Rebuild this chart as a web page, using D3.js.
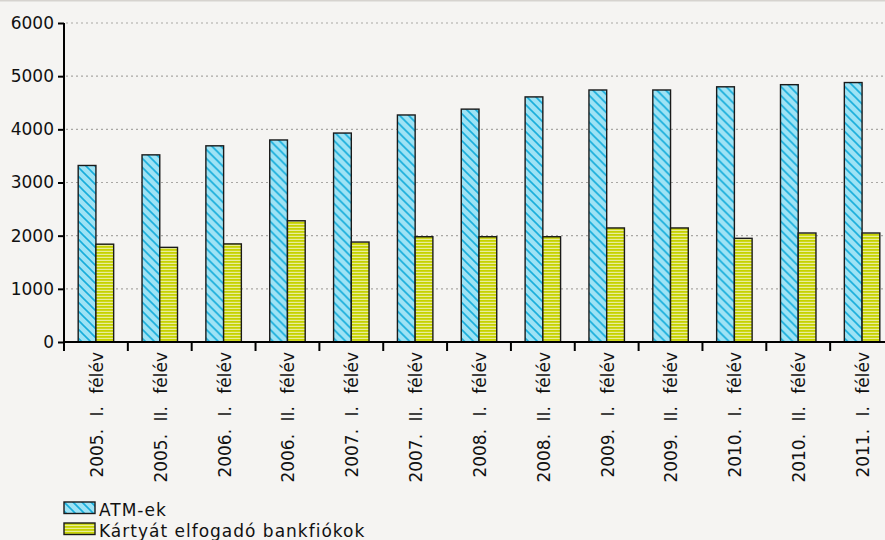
<!DOCTYPE html>
<html lang="hu">
<head>
<meta charset="utf-8">
<title>ATM-ek és kártyát elfogadó bankfiókok</title>
<script src="https://d3js.org/d3.v7.min.js"></script>
<style>
    html, body { margin: 0; padding: 0; background: #f5f4f2; }
    svg { display: block; }
    svg text { font-family: "DejaVu Sans", Verdana, sans-serif; font-size: 17px; fill: #111; }
    .grid line { stroke: #a9a7a4; stroke-width: 1.2; stroke-dasharray: 2 3; }
    .axis path, .axis line { stroke: #000; stroke-width: 2; }
</style>
</head>
<body>
<svg width="885" height="540"></svg>
<script>
    // periods (x categories)
    let periods = [
        "2005. I. félév", "2005. II. félév", "2006. I. félév", "2006. II. félév",
        "2007. I. félév", "2007. II. félév", "2008. I. félév", "2008. II. félév",
        "2009. I. félév", "2009. II. félév", "2010. I. félév", "2010. II. félév",
        "2011. I. félév"
    ];
    let atm = [3320, 3520, 3690, 3800, 3930, 4270, 4380, 4610, 4740, 4740, 4800, 4840, 4880];
    let bankfiok = [1840, 1780, 1845, 2280, 1880, 1980, 1980, 1980, 2145, 2145, 1950, 2050, 2050];
    let seriesNames = ["ATM-ek", "Kártyát elfogadó bankfiókok"];
    let yTicks = [0, 1000, 2000, 3000, 4000, 5000, 6000];

    let svg = d3.select("svg");
    let width = 885;

    // top border line
    svg.append("line")
        .attr("x1", 0).attr("x2", width)
        .attr("y1", 0.5).attr("y2", 0.5)
        .attr("stroke", "#d6d3cf").attr("stroke-width", 2);

    let defs = svg.append("defs");

    // diagonal hatch for ATM bars
    let pAtm = defs.append("pattern")
        .attr("id", "hatchAtm")
        .attr("patternUnits", "userSpaceOnUse")
        .attr("width", 9).attr("height", 9);
    pAtm.append("rect").attr("width", 9).attr("height", 9).attr("fill", "#9ee3f5");
    pAtm.append("path")
        .attr("d", "M0,0L9,9M-3,6L3,12M6,-3L12,3")
        .attr("stroke", "#17addb").attr("stroke-width", 1.6);

    // horizontal stripes for bank branch bars
    let pBank = defs.append("pattern")
        .attr("id", "stripeBank")
        .attr("patternUnits", "userSpaceOnUse")
        .attr("width", 6).attr("height", 3);
    pBank.append("rect").attr("width", 6).attr("height", 3).attr("fill", "#e9ed9a");
    pBank.append("rect").attr("width", 6).attr("height", 1.8).attr("fill", "#c6d200");

    let fills = ["url(#hatchAtm)", "url(#stripeBank)"];

    let x = d3.scaleBand()
        .domain(periods)
        .range([64, 894])
        .paddingInner(0)
        .paddingOuter(0);

    let inner = d3.scaleBand()
        .domain([0, 1])
        .range([0, x.bandwidth()])
        .paddingInner(0)
        .paddingOuter(0.8);

    let y = d3.scaleLinear()
        .domain([0, 6000])
        .range([342, 23]);

    // dotted gridlines
    svg.append("g")
        .attr("class", "grid")
        .selectAll("line")
        .data(yTicks.filter(d => d > 0))
        .join("line")
        .attr("x1", 66).attr("x2", width)
        .attr("y1", d => y(d)).attr("y2", d => y(d));

    // bars
    let rows = periods.map((p, i) => ({ period: p, values: [atm[i], bankfiok[i]] }));

    let groups = svg.append("g")
        .selectAll("g")
        .data(rows)
        .join("g")
        .attr("transform", d => `translate(${x(d.period)},0)`);

    groups.selectAll("rect")
        .data(d => d.values.map((v, k) => ({ k: k, v: v })))
        .join("rect")
        .attr("x", d => inner(d.k))
        .attr("width", inner.bandwidth())
        .attr("y", d => y(d.v))
        .attr("height", d => y(0) - y(d.v))
        .attr("fill", d => fills[d.k])
        .attr("stroke", "#1a1a1a")
        .attr("stroke-width", 1.4);

    // y axis
    let yAxis = svg.append("g")
        .attr("class", "axis")
        .attr("transform", "translate(64,0)")
        .call(d3.axisLeft(y).tickValues(yTicks).tickSize(6).tickPadding(4).tickFormat(d3.format("d")));
    yAxis.attr("font-family", null).attr("font-size", null);
    yAxis.select(".domain").remove();
    yAxis.append("line")
        .attr("x1", 0).attr("x2", 0)
        .attr("y1", y(6000)).attr("y2", 351);

    // x axis
    let xAxis = svg.append("g").attr("class", "axis");
    xAxis.append("line")
        .attr("x1", 63).attr("x2", width)
        .attr("y1", y(0)).attr("y2", y(0));
    xAxis.selectAll("line.tick")
        .data(periods.slice(1))
        .join("line")
        .attr("class", "tick")
        .attr("x1", d => x(d)).attr("x2", d => x(d))
        .attr("y1", y(0)).attr("y2", 351);
    xAxis.selectAll("text")
        .data(periods)
        .join("text")
        .attr("transform", d => `translate(${x(d) + x.bandwidth() / 2 + 1},352) rotate(-90)`)
        .attr("text-anchor", "end")
        .attr("dy", "0.35em")
        .style("word-spacing", "7px")
        .text(d => d);

    // legend
    let legend = svg.append("g")
        .selectAll("g")
        .data(seriesNames)
        .join("g")
        .attr("transform", (d, i) => `translate(64,${502 + i * 21})`);
    legend.append("rect")
        .attr("width", 31).attr("height", 11.5)
        .attr("fill", (d, i) => fills[i])
        .attr("stroke", "#1a1a1a")
        .attr("stroke-width", 1.4);
    legend.append("text")
        .attr("x", 35).attr("y", 14)
        .style("letter-spacing", "1px")
        .text(d => d);
</script>
</body>
</html>
